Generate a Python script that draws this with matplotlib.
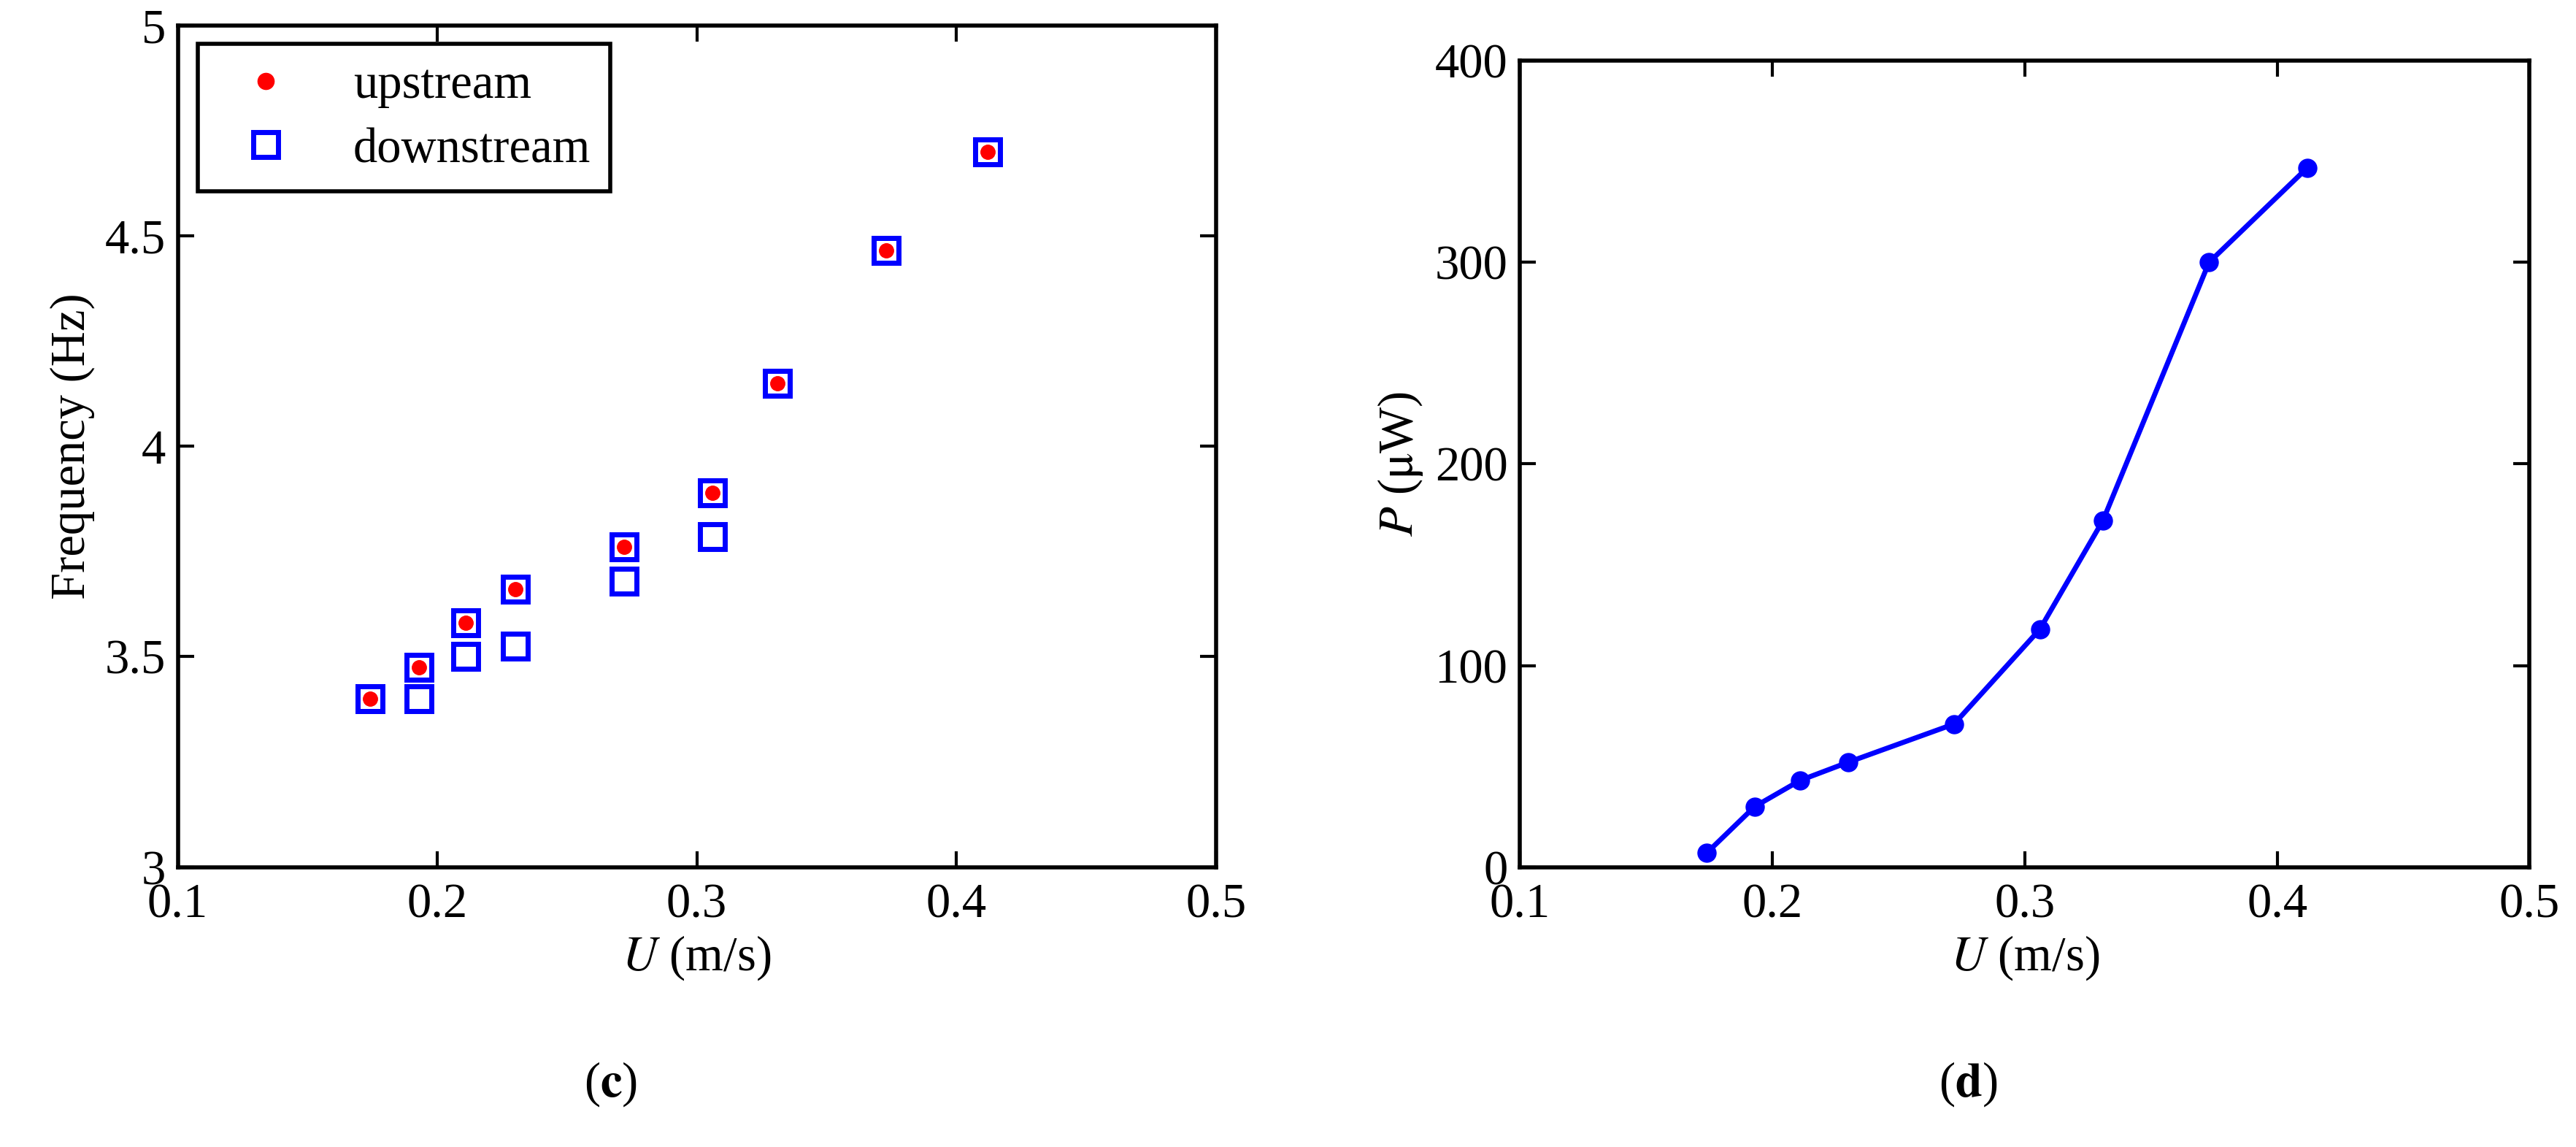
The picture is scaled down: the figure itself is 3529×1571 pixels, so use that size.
import matplotlib
matplotlib.use("Agg")
import matplotlib.pyplot as plt
from matplotlib.lines import Line2D

U = [0.174, 0.193, 0.211, 0.230, 0.272, 0.306, 0.331, 0.373, 0.412]
freq_up = [3.40, 3.475, 3.58, 3.66, 3.76, 3.89, 4.15, 4.465, 4.70]
freq_down = [3.40, 3.40, 3.50, 3.525, 3.68, 3.785, 4.15, 4.465, 4.70]
P = [7, 30, 43, 52, 71, 118, 172, 300, 347]

plt.rcParams['font.family'] = ['Liberation Serif', 'DejaVu Serif']
plt.rcParams['mathtext.fontset'] = 'stix'
fs = 48

fig = plt.figure(figsize=(35.29, 15.71), dpi=100)
ax1 = fig.add_axes([0.069, 0.244, 0.403, 0.734])
ax2 = fig.add_axes([0.590, 0.244, 0.392, 0.703])

for ax in (ax1, ax2):
    ax.tick_params(direction='in', top=True, right=True, labelsize=fs, length=16, width=3)
    ax.tick_params(axis='x', pad=16)
    ax.tick_params(axis='y', pad=12)
    for s in ax.spines.values():
        s.set_linewidth(4)
    ax.set_xlim(0.1, 0.5)
    ax.set_xticks([0.1, 0.2, 0.3, 0.4, 0.5])
    ax.set_xticklabels(['0.1', '0.2', '0.3', '0.4', '0.5'])
    ax.set_xlabel(r'$\it{U}$ (m/s)', fontsize=fs, labelpad=6)

ax1.plot(U, freq_down, 's', ms=24, mfc='none', mec='#0000ff', mew=5, zorder=2)
ax1.plot(U, freq_up, 's', ms=24, mfc='none', mec='#0000ff', mew=5, zorder=2)
ax1.plot(U, freq_up, 'o', ms=14, color='#ff0000', zorder=3)
ax1.set_ylim(3, 5)
ax1.set_yticks([3, 3.5, 4, 4.5, 5])
ax1.set_yticklabels(['3', '3.5', '4', '4.5', '5'])
ax1.set_ylabel('Frequency (Hz)', fontsize=fs, labelpad=10)
handles = [Line2D([], [], marker='o', ls='none', ms=16, color='#ff0000'),
           Line2D([], [], marker='s', ls='none', ms=24, mfc='none', mec='#0000ff', mew=5)]
leg = ax1.legend(handles, ['upstream', 'downstream'], loc='upper left', fontsize=fs,
                 fancybox=False, edgecolor='black', framealpha=1, borderaxespad=0.3,
                 handletextpad=0.8, bbox_to_anchor=(0.005, 0.995), labelspacing=0.4)
leg.get_frame().set_linewidth(4)

ax2.plot(U, P, '-o', color='#0000ff', lw=5, ms=18)
ax2.set_ylim(0, 400)
ax2.set_yticks([0, 100, 200, 300, 400])
ax2.set_ylabel(r'$\it{P}$ ($\mathrm{\mu}$W)', fontsize=fs, labelpad=10)

fig.text(0.237, 0.055, r'($\bf{c}$)', fontsize=fs, ha='center', va='center')
fig.text(0.764, 0.055, r'($\bf{d}$)', fontsize=fs, ha='center', va='center')

fig.savefig('out.png', dpi=100)
